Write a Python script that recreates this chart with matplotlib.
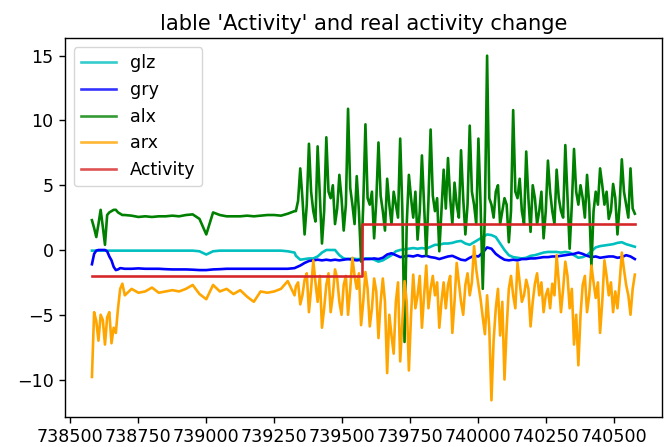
import numpy as np
import matplotlib
matplotlib.use('Agg')
import matplotlib.pyplot as plt

# index: dense at start, then flat stretch, then noisy part
x_head = np.concatenate([np.arange(738579, 738700, 8), np.arange(738700, 739330, 25)])
x_idx = np.concatenate([x_head, np.arange(739330, 740584, 16)])    # smooth gyro series
x_fine = np.concatenate([x_head, np.arange(739330, 740584, 8)])    # accel series

glz = [-0.05] * 16 + [
    -0.05, -0.05, -0.05, -0.05, -0.05, -0.05, -0.05, -0.05, -0.05, -0.05, -0.05, -0.1, -0.35,
    -0.1, -0.05, -0.05, -0.05, -0.05, -0.05, -0.05, -0.05, -0.05, -0.05, -0.05, -0.1, -0.2,
] + [
    -0.45, -0.75, -0.7, -0.65, -0.65, -0.5, -0.2, 0.0, 0.0, 0.0,
    -0.4, -0.65, -0.7, -0.65, -0.7, -0.7, -0.65, -0.65, -0.75, -0.9,
    -0.8, -0.6, -0.4, -0.1, 0.0, 0.05, 0.1, 0.15, 0.1, 0.15,
    0.1, 0.25, 0.4, 0.4, 0.5, 0.5, 0.55, 0.65, 0.7, 0.5,
    0.4, 0.6, 0.8, 1.0, 1.2, 1.15, 1.0, 0.5, 0.0, -0.4,
    -0.55, -0.6, -0.65, -0.6, -0.45, -0.4, -0.3, -0.2, -0.15, -0.15,
    -0.15, -0.2, -0.15, -0.2, -0.4, -0.6, -0.55, -0.4, -0.1, 0.2,
    0.3, 0.35, 0.4, 0.45, 0.55, 0.6, 0.45, 0.35, 0.25,
]

gry = [
    -1.1, -0.3, -0.05, 0.0, 0.0, 0.0, 0.0, -0.1, -0.5, -0.8, -1.3, -1.55, -1.5, -1.4, -1.42, -1.45,
] + [
    -1.45, -1.45, -1.42, -1.45, -1.45, -1.45, -1.48, -1.5, -1.5, -1.5, -1.52, -1.55, -1.55,
    -1.5, -1.48, -1.45, -1.45, -1.45, -1.45, -1.45, -1.45, -1.45, -1.45, -1.45, -1.45, -1.4,
] + [
    -1.35, -1.2, -1.0, -0.85, -0.8, -0.75, -0.8, -0.75, -0.8, -0.75,
    -0.8, -0.75, -0.7, -0.75, -0.8, -0.75, -0.7, -0.7, -0.65, -0.7,
    -0.6, -0.35, -0.25, -0.4, -0.55, -0.5, -0.45, -0.5, -0.4, -0.5,
    -0.45, -0.55, -0.6, -0.7, -0.6, -0.5, -0.45, -0.6, -0.75, -0.8,
    -0.6, -0.45, -0.5, -0.2, 0.2, 0.1, -0.3, -0.55, -0.75, -0.8,
    -0.75, -0.8, -0.7, -0.7, -0.65, -0.65, -0.6, -0.55, -0.55, -0.5,
    -0.5, -0.45, -0.4, -0.35, -0.3, -0.2, -0.3, -0.45, -0.55, -0.5,
    -0.6, -0.55, -0.5, -0.5, -0.6, -0.55, -0.4, -0.5, -0.7,
]

alx = [
    2.3, 1.7, 1.0, 2.0, 3.1, 1.8, 0.4, 2.7, 2.9, 3.0, 3.1, 3.1, 2.9, 2.8, 2.7, 2.7,
] + [
    2.7, 2.65, 2.55, 2.6, 2.55, 2.6, 2.6, 2.65, 2.6, 2.7, 2.75, 2.4, 1.2,
    2.9, 2.7, 2.6, 2.6, 2.6, 2.65, 2.6, 2.65, 2.7, 2.7, 2.65, 2.8, 3.0,
] + [
    3.0, 3.8, 6.3, 4.0, 1.2, 3.5, 8.2, 4.5, 3.0, 2.2,
    8.0, 4.2, 0.5, 3.0, 8.7, 4.5, 4.0, 5.0, 2.0, 3.2,
    5.8, 4.0, 1.5, 3.5, 10.9, 4.8, 3.5, 2.0, 5.7, 3.0,
    -0.9, 3.5, 9.7, 4.0, 3.5, 4.5, 0.9, 3.8, 8.3, 4.2,
    3.0, 1.5, 5.5, 3.5, 2.0, 4.5, 3.5, 2.5, 8.6, 3.0,
    -7.1, 2.0, 5.8, 4.0, 2.5, 4.5, 0.8, 3.0, 7.3, 3.5,
    -0.4, 3.8, 9.3, 4.2, 3.0, 4.0, -0.1, 3.0, 6.2, 3.2,
    7.1, 4.0, 2.0, 5.2, 3.5, 2.5, 7.7, 4.0, 1.2, 3.5,
    9.6, 4.5, 3.5, 2.0, 8.6, 3.5, -3.0, 3.0, 15.0, 4.0,
    3.5, 2.5, 4.5, 5.0, 2.0, 3.0, 4.0, 3.5, 0.6, 3.0,
    10.8, 4.5, 4.0, 5.5, 3.0, 2.0, 7.6, 4.0, 1.4, 5.0,
    4.0, 2.0, 3.0, 4.5, 0.9, 3.0, 6.9, 4.5, 3.0, 2.0,
    6.2, 4.0, 3.0, 2.5, 8.1, 4.0, 0.1, 3.5, 7.8, 4.5,
    3.5, 5.0, 4.0, 2.5, 5.8, 3.5, -1.3, 3.0, 4.5, 3.5,
    6.3, 5.0, 3.5, 4.5, 2.4, 3.0, 5.1, 4.0, 1.2, 3.5,
    7.0, 4.5, 3.5, 2.5, 6.3, 3.2, 2.8,
]

arx = [
    -9.8, -4.8, -5.5, -7.0, -5.0, -5.4, -7.3, -5.2, -4.8, -7.2, -6.0, -6.4, -4.5, -3.0, -2.6, -3.4,
] + [
    -3.5, -3.0, -3.3, -3.2, -2.9, -3.3, -3.2, -3.1, -3.2, -3.0, -2.7, -3.4, -3.8,
    -2.7, -3.2, -3.0, -3.4, -3.1, -3.6, -4.0, -3.2, -3.3, -3.2, -3.0, -2.4, -3.5,
] + [
    -2.8, -2.5, -4.2, -3.5, -2.3, -1.8, -4.8, -3.0, -0.8, -2.5,
    -4.0, -2.0, -6.0, -4.5, -2.7, -1.8, -4.8, -3.5, -1.5, -2.2,
    -4.0, -5.0, -2.7, -2.0, -5.0, -3.0, -0.6, -2.0, -3.0, -1.8,
    -5.8, -4.0, -1.7, -3.0, -5.9, -4.5, -2.2, -3.2, -6.8, -4.0,
    -2.2, -4.0, -9.5, -5.0, -6.6, -8.0, -4.0, -2.5, -8.6, -5.5,
    -2.4, -4.0, -9.3, -5.0, -1.9, -4.5, -3.5, -2.0, -6.0, -3.5,
    -1.2, -4.5, -3.0, -2.0, -3.5, -2.5, -6.0, -4.0, -2.5, -4.5,
    -2.7, -2.0, -6.4, -4.0, -1.0, -2.5, -4.0, -5.0, -2.7, -1.8,
    -3.5, -2.5, 0.3, -1.5, -2.7, -3.8, -5.2, -6.5, -3.5, -6.0,
    -11.6, -7.0, -4.5, -3.0, -6.6, -4.0, -10.0, -6.0, -3.0, -2.0,
    -3.5, -4.5, -1.0, -2.5, -4.0, -3.5, -2.3, -3.0, -5.9, -4.0,
    -2.6, -1.8, -3.5, -2.5, -4.8, -3.5, -3.0, -4.5, -2.6, -3.5,
    -0.4, -2.5, -4.8, -3.0, -0.9, -2.0, -4.5, -3.0, -7.3, -5.0,
    -8.9, -5.0, -2.7, -2.0, -4.8, -3.5, -1.2, -2.5, -3.7, -2.5,
    -6.4, -4.0, -0.8, -2.0, -3.5, -2.5, -4.8, -3.2, -4.5, -2.5,
    -0.2, -1.5, -2.7, -3.5, -5.0, -3.0, -1.9,
]

act_x = [738579, 739575, 740578]
act_y = [-2, 2, 2]

s = 1.26
plt.rcParams['font.size'] = 10 * s
plt.rcParams['lines.linewidth'] = 1.5 * s
plt.rcParams['axes.linewidth'] = 0.8 * s
for a in ('xtick', 'ytick'):
    plt.rcParams[a + '.major.size'] = 3.5 * s
    plt.rcParams[a + '.major.width'] = 0.8 * s

fig, ax = plt.subplots(figsize=(6.68, 4.47), dpi=100)
fig.subplots_adjust(left=0.097, right=0.991, top=0.914, bottom=0.066)

ax.plot(x_idx, glz, color='c', label='glz')
ax.plot(x_idx, gry, color='b', label='gry')
ax.plot(x_fine, alx, color='g', label='alx')
ax.plot(x_fine, arx, color='orange', label='arx')
ax.plot(act_x, act_y, color='tab:red', drawstyle='steps-post', label='Activity')

ax.set_xticks(np.arange(738500, 740501, 250))
ax.set_title("lable 'Activity' and real activity change")
leg = ax.legend(loc='upper left')
for h in leg.legend_handles:
    h.set_alpha(0.8)

plt.savefig('out.png')
